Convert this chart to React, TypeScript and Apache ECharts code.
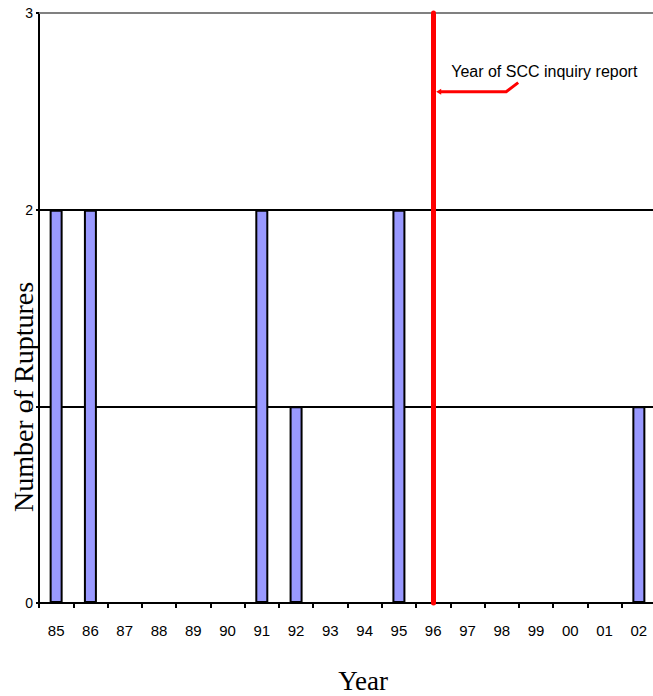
import React, { useEffect, useRef } from "react";
import * as echarts from "echarts";

const years = ["85","86","87","88","89","90","91","92","93","94","95","96","97","98","99","00","01","02"];
const ruptures = [2, 2, 0, 0, 0, 0, 2, 1, 0, 0, 2, 0, 0, 0, 0, 0, 0, 1];
const reportYear = "96";
const annotationText = "Year of SCC inquiry report";
const annotationValue = 2.6;
const yTicks = { min: 0, max: 3, interval: 1 };
const xTitle = "Year";
const yTitle = "Number of Ruptures";

export default function App() {
  const ref = useRef<HTMLDivElement>(null);
  useEffect(() => {
    if (!ref.current) return;
    const chart = echarts.init(ref.current, null, { renderer: "svg" });
    const sans = "Liberation Sans, Arial, sans-serif";
    const serif = "Liberation Serif, Times New Roman, serif";
    chart.setOption({
      animation: false,
      backgroundColor: "#ffffff",
      grid: { left: 39, top: 13, width: 617, height: 590, containLabel: false, outerBoundsMode: "none" },
      xAxis: {
        type: "category",
        data: years,
        axisLine: { show: true, lineStyle: { color: "#000", width: 2 } },
        axisTick: { show: true, length: 5, interval: 0, lineStyle: { color: "#000", width: 2 } },
        axisLabel: { interval: 0, margin: 20, color: "#000", fontFamily: sans, fontSize: 15 },
        splitLine: { show: false },
      },
      yAxis: {
        type: "value",
        min: yTicks.min,
        max: yTicks.max,
        interval: yTicks.interval,
        axisLine: { show: true, lineStyle: { color: "#000", width: 2 } },
        axisTick: { show: true, length: 3, lineStyle: { color: "#000", width: 2 } },
        axisLabel: { margin: 6, color: "#000", fontFamily: sans, fontSize: 14 },
        splitLine: { show: true, showMinLine: false, showMaxLine: false, lineStyle: { color: "#000", width: 2 } },
      },
      series: [
        {
          type: "bar",
          data: ruptures,
          barWidth: 13,
          itemStyle: { color: "#9999ff", borderColor: "#000", borderWidth: 2 },
          markLine: {
            silent: true,
            symbol: ["none", "none"],
            label: { show: false },
            data: [
              { yAxis: yTicks.max, lineStyle: { color: "#808080", width: 2, type: "solid" } },
              { xAxis: reportYear, lineStyle: { color: "#ff0000", width: 5, type: "solid", cap: "round" } },
            ],
          },
        },
      ],
    });
    const p = chart.convertToPixel({ xAxisIndex: 0, yAxisIndex: 0 }, [reportYear, annotationValue]) as number[];
    const lx = p[0];
    const ly = p[1];
    chart.setOption({
      graphic: [
        {
          type: "polyline",
          shape: { points: [[lx + 6, ly], [lx + 73, ly], [lx + 85, ly - 9]] },
          style: { stroke: "#ff0000", lineWidth: 3, fill: null },
          z: 100,
        },
        {
          type: "polygon",
          shape: { points: [[lx + 3, ly], [lx + 8, ly - 3], [lx + 8, ly + 3]] },
          style: { fill: "#ff0000" },
          z: 100,
        },
        {
          type: "text",
          x: lx + 18,
          y: ly - 12,
          style: { text: annotationText, fill: "#000", font: `16px ${sans}`, textAlign: "left", textVerticalAlign: "bottom" },
          z: 100,
        },
        {
          type: "text",
          x: 23,
          y: 397,
          rotation: Math.PI / 2,
          style: { text: yTitle, fill: "#000", font: `28px ${serif}`, textAlign: "center", textVerticalAlign: "middle" },
        },
        {
          type: "text",
          x: 363,
          y: 681,
          style: { text: xTitle, fill: "#000", font: `27px ${serif}`, textAlign: "center", textVerticalAlign: "middle" },
        },
      ],
    });
    return () => chart.dispose();
  }, []);
  return (
    <div
      ref={ref}
      style={{ position: "absolute", left: 0, top: 0, width: 653, height: 696, background: "#fff" }}
    />
  );
}
